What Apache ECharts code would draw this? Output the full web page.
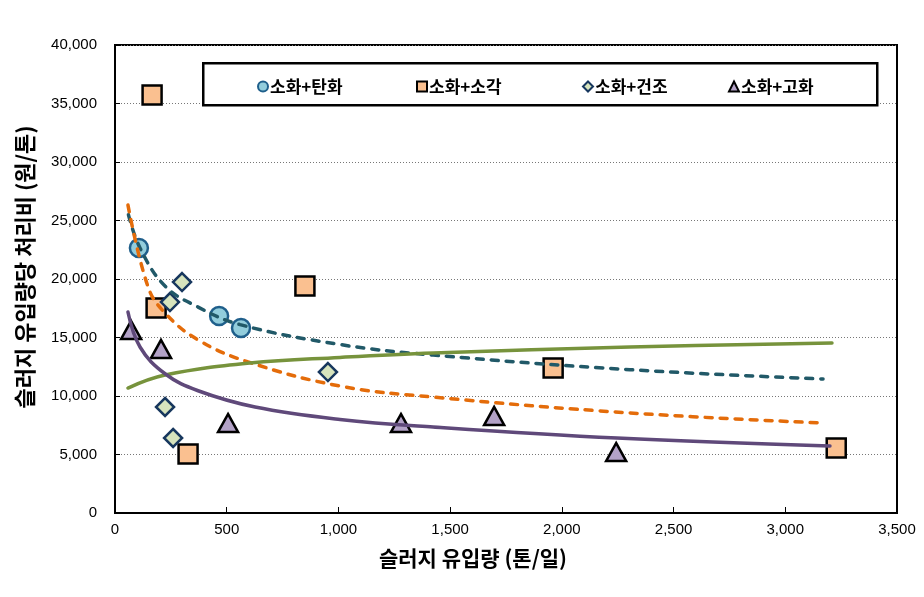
<!DOCTYPE html>
<html>
<head>
<meta charset="utf-8">
<script src="https://cdn.jsdelivr.net/npm/echarts@6/dist/echarts.min.js"></script>
<style>html,body{margin:0;padding:0;background:#fff;}#c{width:924px;height:597px;}</style>
</head>
<body>
<div id="c"></div>
<script>
// Series names
const seriesNames = ['소화+탄화', '소화+소각', '소화+건조', '소화+고화'];

// Scatter data [x (톤/일), y (원/톤)]
const carbonX = [107, 466, 564];
const carbonY = [22650, 16840, 15810];
const incinX = [166, 184, 327, 850, 1961, 3228];
const incinY = [35730, 17520, 5040, 19400, 12390, 5560];
const dryX = [224, 246, 260, 300, 953];
const dryY = [9060, 18030, 6410, 19740, 12050];
const solidX = [72, 206, 506, 1280, 1697, 2243];
const solidY = [15640, 14020, 7690, 7690, 8290, 5210];

// Trend lines
const carbonTrendX = [60, 112, 224, 372, 560, 1007, 1424, 2305, 3169];
const carbonTrendY = [25500, 22650, 19400, 17600, 16100, 14400, 13500, 12250, 11450];
const incinTrendX = [58, 148, 224, 372, 596, 1007, 1424, 2305, 3169];
const incinTrendY = [26320, 19320, 17090, 14790, 12910, 10850, 9910, 8550, 7690];
const dryTrendX = [58, 224, 604, 1007, 1424, 2305, 3209];
const dryTrendY = [10680, 11790, 12820, 13300, 13680, 14190, 14530];
const solidTrendX = [58, 112, 224, 372, 627, 1007, 1424, 2247, 3200];
const solidTrendY = [17180, 14190, 11900, 10450, 9060, 8000, 7350, 6410, 5730];

// Axis ticks
const xTicks = [0, 500, 1000, 1500, 2000, 2500, 3000, 3500];
const yTicks = [0, 5000, 10000, 15000, 20000, 25000, 30000, 35000, 40000];

const pair = (xs, ys) => xs.map((x, i) => [x, ys[i]]);
const fmt = v => String(v).replace(/\B(?=(\d{3})+(?!\d))/g, ',');

const numFont = 'Liberation Sans, Arial, sans-serif';
const krFont = '"Noto Sans CJK KR", sans-serif';

const chart = echarts.init(document.getElementById('c'), null, {renderer: 'canvas'});

function trend(data, color, dashed) {
  return {
    type: 'line', data: data, smooth: 0.4, showSymbol: false, symbol: 'none',
    silent: true, z: 5,
    lineStyle: {color: color, width: 3.5, type: dashed ? [7, 8] : 'solid', cap: 'round'}
  };
}

const legendLefts = [252, 411, 577, 723];
const legends = seriesNames.map((n, i) => ({
  data: [n], left: legendLefts[i], top: 73, z: 10,
  itemWidth: 10, itemHeight: 10,
  textStyle: {fontFamily: krFont, fontSize: 17, fontWeight: 'bold', color: '#000', padding: [0, 0, 0, -3]}
}));

chart.setOption({
  animation: false,
  backgroundColor: '#fff',
  grid: {left: 115, right: 27, top: 45, bottom: 84, containLabel: false, outerBoundsMode: 'none',
    show: true, borderColor: '#000', borderWidth: 2, backgroundColor: 'transparent'},
  graphic: [{
    type: 'rect', left: 202, top: 62, z: 1,
    shape: {width: 674, height: 42},
    style: {fill: '#fff', stroke: '#000', lineWidth: 2.5}
  }],
  legend: legends,
  xAxis: {
    type: 'value', min: 0, max: 3500, interval: 500,
    name: '슬러지 유입량 (톤/일)', nameLocation: 'middle', nameGap: 35,
    nameTextStyle: {fontFamily: krFont, fontSize: 21, fontWeight: 'bold', color: '#000', padding: [0, 66, 0, 0]},
    axisLine: {show: true, lineStyle: {color: '#000', width: 2}},
    axisTick: {show: true, inside: true, length: 6, lineStyle: {color: '#000', width: 1}},
    axisLabel: {margin: 9, fontFamily: numFont, fontSize: 15, color: '#000',
      formatter: v => xTicks.includes(v) ? fmt(v) : ''},
    splitLine: {show: false}
  },
  yAxis: {
    type: 'value', min: 0, max: 40000, interval: 5000,
    name: '슬러지 유입량당 처리비 (원/톤)', nameLocation: 'middle', nameGap: 79, nameRotate: 90,
    nameTextStyle: {fontFamily: krFont, fontSize: 22, fontWeight: 'bold', color: '#000', padding: [0, 0, 0, 24]},
    axisLine: {show: true, lineStyle: {color: '#000', width: 2}},
    axisTick: {show: true, inside: true, length: 5, lineStyle: {color: '#000', width: 1}},
    axisLabel: {margin: 18, fontFamily: numFont, fontSize: 15, color: '#000',
      formatter: v => yTicks.includes(v) ? fmt(v) : ''},
    splitLine: {show: true, lineStyle: {color: '#777', width: 1, type: [1, 2]}}
  },
  series: [
    {name: seriesNames[0], type: 'scatter', data: pair(carbonX, carbonY), symbol: 'circle', symbolSize: 18, z: 3,
      itemStyle: {color: '#92CDDC', borderColor: '#1F5F8B', borderWidth: 2.5, opacity: 1}},
    {name: seriesNames[1], type: 'scatter', data: pair(incinX, incinY), symbol: 'rect', symbolSize: 19, z: 3,
      itemStyle: {color: '#FAC090', borderColor: '#000', borderWidth: 2.5, opacity: 1}},
    {name: seriesNames[2], type: 'scatter', data: pair(dryX, dryY), symbol: 'diamond', symbolSize: [18, 18], z: 3,
      itemStyle: {color: '#D7E4BD', borderColor: '#17375E', borderWidth: 2.5, opacity: 1}},
    {name: seriesNames[3], type: 'scatter', data: pair(solidX, solidY), symbol: 'triangle', symbolSize: [20, 18], z: 3,
      itemStyle: {color: '#B3A2C7', borderColor: '#000', borderWidth: 2.5, opacity: 1}},
    trend(pair(carbonTrendX, carbonTrendY), '#215968', true),
    trend(pair(incinTrendX, incinTrendY), '#E46C0A', true),
    trend(pair(dryTrendX, dryTrendY), '#77933C', false),
    trend(pair(solidTrendX, solidTrendY), '#5F497A', false)
  ]
});
</script>
</body>
</html>
